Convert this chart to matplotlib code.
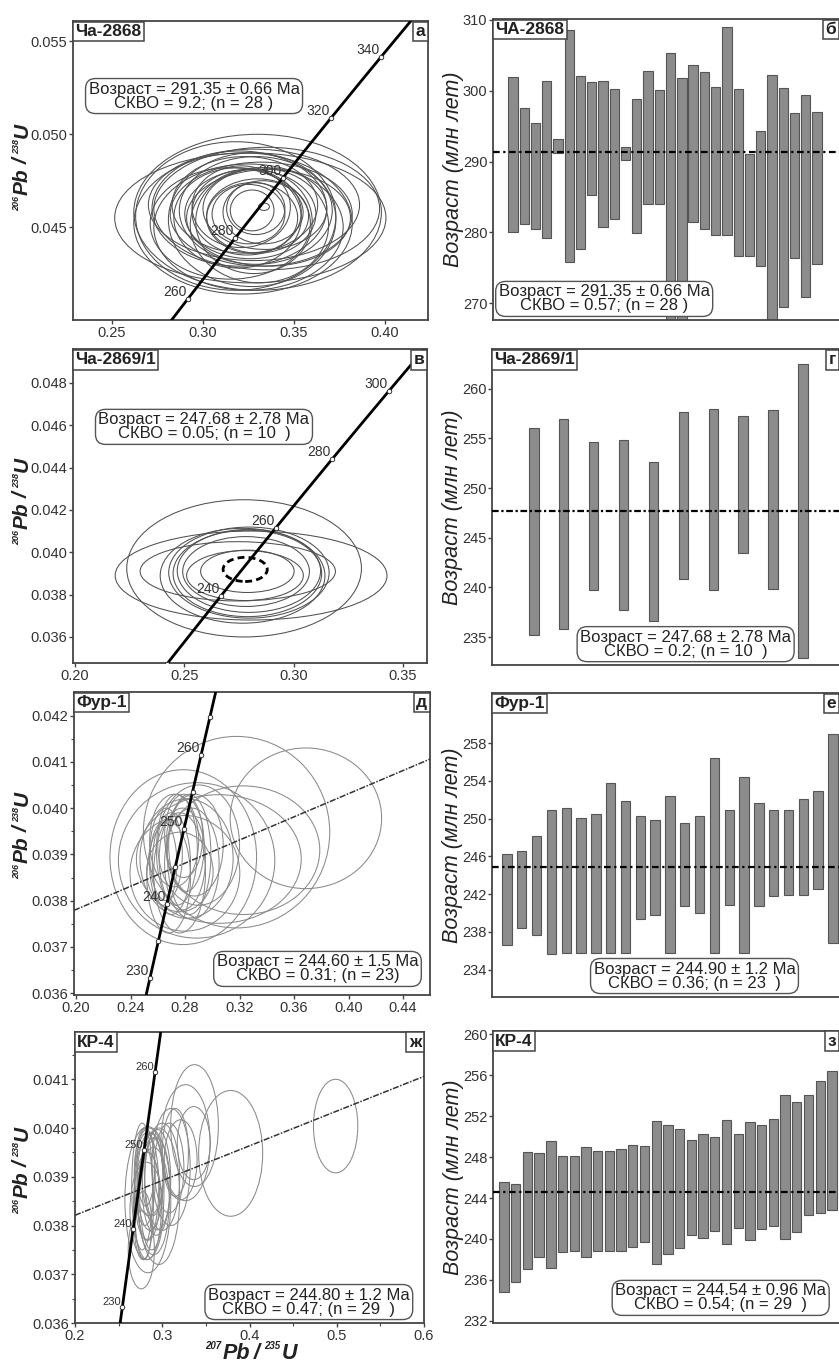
import numpy as np
import matplotlib
matplotlib.use('Agg')
import matplotlib.pyplot as plt
from matplotlib.patches import Ellipse
from matplotlib.transforms import IdentityTransform

plt.rcParams['font.family'] = ['Liberation Sans', 'DejaVu Sans']

# Decay constants (1/yr)
L238 = 1.55125e-10
L235 = 9.8485e-10

W, H = 839, 1363

# ---------------- Concordia panels: ellipses (center x, center y, half-width, half-height)
a_ex = [0.326, 0.330, 0.322, 0.335, 0.318, 0.328, 0.325, 0.332, 0.320, 0.327, 0.336, 0.315, 0.329, 0.323,
        0.331, 0.326, 0.319, 0.334, 0.328, 0.324, 0.330, 0.321, 0.327, 0.333, 0.325, 0.329, 0.327, 0.3335]
a_ey = [0.0455, 0.0458, 0.0452, 0.0460, 0.0456, 0.0462, 0.0450, 0.0457, 0.0460, 0.0454, 0.0455, 0.0452, 0.0459, 0.0462,
        0.0451, 0.0457, 0.0455, 0.0460, 0.0453, 0.0458, 0.0456, 0.0461, 0.0455, 0.0458, 0.0457, 0.0460, 0.0459, 0.0461]
a_ea = [0.0745, 0.068, 0.060, 0.062, 0.055, 0.058, 0.052, 0.050, 0.048, 0.046, 0.045, 0.044, 0.042, 0.040,
        0.038, 0.036, 0.035, 0.034, 0.032, 0.030, 0.028, 0.027, 0.025, 0.022, 0.020, 0.016, 0.012, 0.003]
a_eb = [0.0035, 0.0042, 0.0038, 0.0033, 0.0040, 0.0030, 0.0034, 0.0028, 0.0031, 0.0036, 0.0026, 0.0030, 0.0029, 0.0026,
        0.0031, 0.0024, 0.0027, 0.0022, 0.0028, 0.0023, 0.0020, 0.0022, 0.0019, 0.0017, 0.0016, 0.0014, 0.0011, 0.0002]

v_ex = [0.2805, 0.2773, 0.2766, 0.2788, 0.2782, 0.2795, 0.2744, 0.2777, 0.2788, 0.2795]
v_ey = [0.0389, 0.03924, 0.03889, 0.0390, 0.03909, 0.03912, 0.0391, 0.0389, 0.0391, 0.03904]
v_ea = [0.0622, 0.0537, 0.0377, 0.0340, 0.0290, 0.0328, 0.0447, 0.0267, 0.0214, 0.0367]
v_eb = [0.0021, 0.00324, 0.00224, 0.00204, 0.00165, 0.00196, 0.0014, 0.00118, 0.0010, 0.00215]
v_mean = (0.2778, 0.03919, 0.0101, 0.00057)

d_ex = [0.3687, 0.3178, 0.2787, 0.2885, 0.3048, 0.3227, 0.2799, 0.2811, 0.2762, 0.290,
        0.266, 0.270, 0.274, 0.278, 0.281, 0.268, 0.276, 0.283, 0.272, 0.285, 0.279, 0.264, 0.287]
d_ey = [0.03978, 0.03948, 0.03894, 0.03887, 0.0389, 0.03909, 0.03859, 0.03891, 0.03862, 0.0392,
        0.0390, 0.0388, 0.0391, 0.0389, 0.0392, 0.0385, 0.0386, 0.0390, 0.0393, 0.0388, 0.0394, 0.0388, 0.0392]
d_ea = [0.0556, 0.0684, 0.0538, 0.0574, 0.0605, 0.0562, 0.0403, 0.0342, 0.0244, 0.030,
        0.012, 0.014, 0.015, 0.017, 0.013, 0.016, 0.019, 0.016, 0.018, 0.020, 0.014, 0.010, 0.021]
d_eb = [0.00152, 0.00207, 0.00189, 0.00168, 0.00139, 0.00139, 0.00125, 0.00129, 0.00086, 0.0013,
        0.0010, 0.0011, 0.0012, 0.0011, 0.0010, 0.0012, 0.0013, 0.0013, 0.0010, 0.0012, 0.0009, 0.0009, 0.0011]

zh_ex = [0.4987, 0.3784, 0.3370, 0.3267, 0.2835, 0.3361, 0.3211, 0.3079, 0.2947, 0.300, 0.310, 0.296, 0.315, 0.276,
         0.280, 0.282, 0.284, 0.279, 0.286, 0.281, 0.283, 0.288, 0.277, 0.285, 0.290, 0.282, 0.289, 0.293, 0.278]
zh_ey = [0.04004, 0.03948, 0.04005, 0.0397, 0.03853, 0.03969, 0.03935, 0.03918, 0.03894, 0.0390, 0.0392, 0.0386, 0.0395, 0.0375,
         0.0390, 0.0388, 0.0386, 0.0385, 0.0389, 0.0392, 0.0384, 0.0387, 0.0388, 0.0391, 0.0385, 0.0383, 0.0390, 0.0388, 0.0380]
zh_ea = [0.0254, 0.0367, 0.0273, 0.0282, 0.0263, 0.0188, 0.0188, 0.0169, 0.0150, 0.020, 0.022, 0.024, 0.015, 0.015,
         0.012, 0.014, 0.013, 0.011, 0.015, 0.010, 0.016, 0.014, 0.012, 0.017, 0.018, 0.019, 0.012, 0.016, 0.010]
zh_eb = [0.00096, 0.00129, 0.00125, 0.00119, 0.0015, 0.00075, 0.00082, 0.00092, 0.00103, 0.0011, 0.0012, 0.0014, 0.0009, 0.0008,
         0.0010, 0.0011, 0.0009, 0.0012, 0.0010, 0.0008, 0.0011, 0.0012, 0.0013, 0.0009, 0.0011, 0.0010, 0.0008, 0.0010, 0.0007]

# Discordia lines (x, y end points)
d_disc_x = [0.1985, 0.4598]
d_disc_y = [0.03779, 0.04106]
zh_disc_x = [0.20, 0.60]
zh_disc_y = [0.03821, 0.04106]

# Concordia age marks (Ma)
a_marks = [260, 280, 300, 320, 340]
v_marks = [220, 240, 260, 280, 300]
d_marks = [230, 235, 240, 245, 250, 255, 260, 265]
d_labels = [230, 240, 250, 260]
zh_marks = [230, 240, 250, 260]

# ---------------- Age bar panels (top, bottom of each bar, Ma)
b_top = [301.9, 297.6, 295.5, 301.4, 293.2, 308.6, 302.1, 301.2, 301.4, 300.2, 292.1, 298.8, 302.8, 300.1,
         305.4, 301.8, 303.7, 302.6, 300.6, 309.0, 300.3, 291.0, 294.3, 302.2, 300.4, 296.8, 299.4, 297.0]
b_bot = [280.1, 281.2, 280.4, 279.2, 291.2, 275.8, 277.7, 285.3, 280.8, 281.9, 290.2, 279.9, 284.0, 284.0,
         266.0, 266.0, 281.5, 280.4, 279.6, 279.6, 276.6, 276.7, 275.3, 266.0, 269.5, 276.3, 270.8, 275.5]
b_mean = 291.35

g_top = [256.0, 257.0, 254.6, 254.8, 252.6, 257.7, 258.0, 257.3, 257.9, 262.5]
g_bot = [235.2, 235.8, 239.7, 237.7, 236.6, 240.9, 239.7, 243.5, 239.8, 232.9]
g_mean = 247.68

e_top = [246.2, 246.6, 248.2, 250.9, 251.1, 250.1, 250.5, 253.8, 251.9, 250.3, 249.8, 252.4,
         249.5, 250.3, 256.4, 250.9, 254.4, 251.6, 250.9, 250.9, 252.1, 252.9, 259.0]
e_bot = [236.6, 238.4, 237.7, 235.7, 235.8, 235.8, 235.8, 235.8, 235.8, 239.4, 239.8, 235.8,
         240.7, 240.0, 235.8, 240.8, 235.8, 240.7, 241.8, 241.9, 241.9, 242.5, 236.8]
e_mean = 244.90

z_top = [245.6, 245.4, 248.5, 248.4, 249.6, 248.1, 248.1, 249.0, 248.6, 248.6, 248.8, 249.2, 249.1, 251.5, 251.1,
         250.7, 249.7, 250.2, 250.0, 251.6, 250.2, 251.4, 251.1, 251.7, 254.1, 253.4, 254.1, 255.4, 256.4]
z_bot = [234.8, 235.8, 237.1, 238.2, 237.2, 238.7, 238.8, 238.2, 238.8, 238.8, 238.8, 239.2, 239.7, 237.6, 238.5,
         239.1, 240.4, 240.1, 240.8, 239.5, 241.1, 239.9, 241.0, 241.3, 240.0, 240.7, 242.3, 242.5, 242.8]
z_mean = 244.54

# ---------------- Texts and ticks
samples = ['Ча-2868', 'ЧА-2868', 'Ча-2869/1', 'Ча-2869/1', 'Фур-1', 'Фур-1', 'КР-4', 'КР-4']
letters = ['а', 'б', 'в', 'г', 'д', 'е', 'ж', 'з']
info = ['Возраст = 291.35 ± 0.66 Ma\nСКВО = 9.2; (n = 28 )',
        'Возраст = 291.35 ± 0.66 Ma\nСКВО = 0.57; (n = 28 )',
        'Возраст = 247.68 ± 2.78 Ma\nСКВО = 0.05; (n = 10  )',
        'Возраст = 247.68 ± 2.78 Ma\nСКВО = 0.2; (n = 10  )',
        'Возраст = 244.60 ± 1.5 Ma\nСКВО = 0.31; (n = 23)',
        'Возраст = 244.90 ± 1.2 Ma\nСКВО = 0.36; (n = 23  )',
        'Возраст = 244.80 ± 1.2 Ma\nСКВО = 0.47; (n = 29  )',
        'Возраст = 244.54 ± 0.96 Ma\nСКВО = 0.54; (n = 29  )']
age_label = 'Возраст (млн лет)'
# ratio labels: (text, size, raise px, gap after px)
y_ratio = [('206', 6.5, 9, 1.5), ('Pb', 15, 0, 4), ('/', 15, 0, 4), ('238', 6.5, 9, 1.5), ('U', 15, 0, 0)]
x_ratio = [('207', 7, 10, 1.5), ('Pb', 15.5, 0, 4), ('/', 15.5, 0, 4), ('235', 7, 10, 1.5), ('U', 15.5, 0, 0)]

a_xt = [0.25, 0.30, 0.35, 0.40]
a_yt = [0.045, 0.050, 0.055]
v_xt = [0.20, 0.25, 0.30, 0.35]
v_yt = [0.036, 0.038, 0.040, 0.042, 0.044, 0.046, 0.048]
d_xt = [0.20, 0.24, 0.28, 0.32, 0.36, 0.40, 0.44]
d_yt = [0.036, 0.037, 0.038, 0.039, 0.040, 0.041, 0.042]
zh_xt = [0.2, 0.3, 0.4, 0.5, 0.6]
zh_yt = [0.036, 0.037, 0.038, 0.039, 0.040, 0.041]
b_yt = [270, 280, 290, 300, 310]
g_yt = [235, 240, 245, 250, 255, 260]
e_yt = [234, 238, 242, 246, 250, 254, 258]
z_yt = [232, 236, 240, 244, 248, 252, 256, 260]

SPINE = '#444444'
TXT = '#222222'


def px_axes(fig, l, t, r, b):
    return fig.add_axes([l / W, 1 - b / H, (r - l) / W, (b - t) / H])


def concordia(t_ma):
    t = np.asarray(t_ma, dtype=float) * 1e6
    return np.exp(L235 * t) - 1, np.exp(L238 * t) - 1


def style_axes(ax):
    for s in ax.spines.values():
        s.set_color(SPINE)
        s.set_linewidth(1.3)
    ax.tick_params(direction='out', length=3, width=1, color=SPINE, labelsize=10.5, labelcolor='#333333', pad=1)
    ax.tick_params(which='minor', direction='out', length=2.5, width=0.8, color=SPINE)


def corner_labels(ax, sample, letter, letter_x=0.992):
    box = dict(boxstyle='square,pad=0.14', fc='white', ec=SPINE, lw=1.1)
    ax.text(0.006, 0.99, sample, transform=ax.transAxes, ha='left', va='top', fontsize=12.5,
            fontweight='bold', color=TXT, bbox=box, zorder=10)
    ax.text(letter_x, 0.99, letter, transform=ax.transAxes, ha='right', va='top', fontsize=12.5,
            fontweight='bold', color=TXT, bbox=box, zorder=10)


def info_box(ax, text, x, y):
    ax.text(x, y, text, transform=ax.transAxes, ha='center', va='center', fontsize=12,
            linespacing=0.92, color=TXT, zorder=10,
            bbox=dict(boxstyle='round,pad=0.18,rounding_size=0.6', fc='white', ec='#555555', lw=1.0))


def ratio_label(fig, x, y, parts, vertical):
    # x, y: baseline position / centre in image pixels (top-left origin)
    renderer = fig.canvas.get_renderer()
    sizes = []
    for s, fs, up, gap in parts:
        t = fig.text(0, 0, s, fontsize=fs, fontweight='bold', style='italic')
        sizes.append(t.get_window_extent(renderer).width + gap)
        t.remove()
    pos = -sum(sizes) / 2
    X, Y = x, H - y
    for (s, fs, up, gap), w in zip(parts, sizes):
        if vertical:
            px, py, rot = X - up, Y + pos, 90
        else:
            px, py, rot = X + pos, Y + up, 0
        fig.text(px, py, s, transform=IdentityTransform(), fontsize=fs, fontweight='bold', style='italic',
                 color=TXT, rotation=rot, rotation_mode='anchor', ha='left', va='baseline')
        pos += w


def concordia_panel(ax, ex, ey, ea, eb, ecolor, marks, labels, lab_size, xlim, ylim):
    for cx, cy, a, b in zip(ex, ey, ea, eb):
        ax.add_patch(Ellipse((cx, cy), 2 * a, 2 * b, fill=False, ec=ecolor, lw=0.75))
    cx, cy = concordia(np.linspace(150, 420, 400))
    ax.plot(cx, cy, color='black', lw=2.0, zorder=5)
    mx, my = concordia(marks)
    ax.plot(mx, my, 'o', ms=3.2, mfc='white', mec='#333333', mew=0.7, zorder=6)
    for age in labels:
        lx, ly = concordia(age)
        ax.annotate(str(age), (lx, ly), xytext=(-1, 0), textcoords='offset points', ha='right', va='bottom',
                    fontsize=lab_size, color='#333333', zorder=7)
    ax.set_xlim(*xlim)
    ax.set_ylim(*ylim)
    style_axes(ax)


def bar_panel(ax, top, bot, mean, yt, xlim, ylim, dash):
    x = np.arange(1, len(top) + 1)
    width_px = 9.3
    w = width_px * (xlim[1] - xlim[0]) / (ax.get_position().width * W)
    ax.bar(x, np.array(top) - np.array(bot), bottom=bot, width=w, color='#8c8c8c',
           edgecolor='#555555', lw=0.8, zorder=2)
    ax.axhline(mean, color='black', lw=1.6, ls=dash, zorder=3)
    ax.set_xlim(*xlim)
    ax.set_ylim(*ylim)
    ax.set_xticks([])
    ax.set_yticks(yt)
    ax.set_yticklabels([str(v) for v in yt])
    ax.set_ylabel(age_label, fontsize=15.5, style='italic', color=TXT)
    ax.yaxis.set_label_coords(-0.082, 0.5)
    style_axes(ax)


fig = plt.figure(figsize=(W / 100, H / 100), dpi=100)
LETTER_X = 0.972
LAB_X = 28

# а
ax = px_axes(fig, 73, 21, 428, 320)
concordia_panel(ax, a_ex, a_ey, a_ea, a_eb, '#505050', a_marks, a_marks, 10, (0.2286, 0.4236), (0.0400, 0.0561))
ax.set_xticks(a_xt)
ax.set_xticklabels([f'{v:.2f}' for v in a_xt])
ax.set_yticks(a_yt)
ax.set_yticklabels([f'{v:.3f}' for v in a_yt])
corner_labels(ax, samples[0], letters[0])
info_box(ax, info[0], 0.341, 0.749)
ratio_label(fig, LAB_X, 167, y_ratio, True)

# б
ax = px_axes(fig, 493, 19, 846, 320)
bar_panel(ax, b_top, b_bot, b_mean, b_yt, (-0.776, 30.58), (267.6, 310.14), (0, (3, 1.6, 1, 1.6)))
corner_labels(ax, samples[1], letters[1], LETTER_X)
info_box(ax, info[1], 0.315, 0.07)

# в
ax = px_axes(fig, 73, 349, 427, 663)
concordia_panel(ax, v_ex, v_ey, v_ea, v_eb, '#505050', v_marks, v_marks, 10, (0.199, 0.361), (0.03477, 0.0496))
cx, cy, a, b = v_mean
ax.add_patch(Ellipse((cx, cy), 2 * a, 2 * b, fill=False, ec='black', lw=2.0, ls=(0, (2.5, 1.5)), zorder=4))
ax.set_xticks(v_xt)
ax.set_xticklabels([f'{v:.2f}' for v in v_xt])
ax.set_yticks(v_yt)
ax.set_yticklabels([f'{v:.3f}' for v in v_yt])
corner_labels(ax, samples[2], letters[2])
info_box(ax, info[2], 0.37, 0.752)
ratio_label(fig, LAB_X, 501, y_ratio, True)

# г
ax = px_axes(fig, 492, 349, 846, 665)
bar_panel(ax, g_top, g_bot, g_mean, g_yt, (-0.40, 11.44), (232.2, 264.0), (0, (3, 1.2, 1, 1.2)))
corner_labels(ax, samples[3], letters[3], LETTER_X)
info_box(ax, info[3], 0.547, 0.066)

# д
ax = px_axes(fig, 74, 692, 430, 995)
concordia_panel(ax, d_ex, d_ey, d_ea, d_eb, '#8a8a8a', d_marks, d_labels, 10, (0.1985, 0.4598), (0.03596, 0.04251))
ax.plot(d_disc_x, d_disc_y, color='#333333', lw=1.1, ls=(0, (4, 1, 1, 1)), zorder=4)
ax.set_xticks(d_xt)
ax.set_xticklabels([f'{v:.2f}' for v in d_xt])
ax.set_yticks(d_yt)
ax.set_yticklabels([f'{v:.3f}' for v in d_yt])
ax.set_yticks(np.array(d_yt[:-1]) + 0.0005, minor=True)
corner_labels(ax, samples[4], letters[4])
info_box(ax, info[4], 0.684, 0.086)
ratio_label(fig, LAB_X, 835, y_ratio, True)

# е
ax = px_axes(fig, 492, 693, 846, 997)
bar_panel(ax, e_top, e_bot, e_mean, e_yt, (-0.01, 23.88), (231.1, 263.3), (0, (3, 1.6, 1, 1.6)))
corner_labels(ax, samples[5], letters[5], LETTER_X)
info_box(ax, info[5], 0.572, 0.069)

# ж
ax = px_axes(fig, 75, 1032, 424, 1323)
concordia_panel(ax, zh_ex, zh_ey, zh_ea, zh_eb, '#8a8a8a', zh_marks, zh_marks, 8, (0.2, 0.6), (0.0360, 0.04197))
ax.plot(zh_disc_x, zh_disc_y, color='#333333', lw=1.1, ls=(0, (4, 1, 1, 1)), zorder=4)
ax.set_xticks(zh_xt)
ax.set_xticklabels([f'{v:.1f}' for v in zh_xt])
ax.set_xticks(np.array(zh_xt[:-1]) + 0.05, minor=True)
ax.set_yticks(zh_yt)
ax.set_yticklabels([f'{v:.3f}' for v in zh_yt])
ax.set_yticks(np.array(zh_yt) + 0.0005, minor=True)
corner_labels(ax, samples[6], letters[6])
info_box(ax, info[6], 0.67, 0.072)
ratio_label(fig, LAB_X, 1170, y_ratio, True)
ratio_label(fig, 251, 1359, x_ratio, False)

# з
ax = px_axes(fig, 493, 1031, 846, 1323)
bar_panel(ax, z_top, z_bot, z_mean, z_yt, (0.06, 30.2), (231.8, 260.3), (0, (3, 1.6, 1, 1.6)))
corner_labels(ax, samples[7], letters[7], LETTER_X)
info_box(ax, info[7], 0.645, 0.086)

fig.savefig('out.png', dpi=100)
